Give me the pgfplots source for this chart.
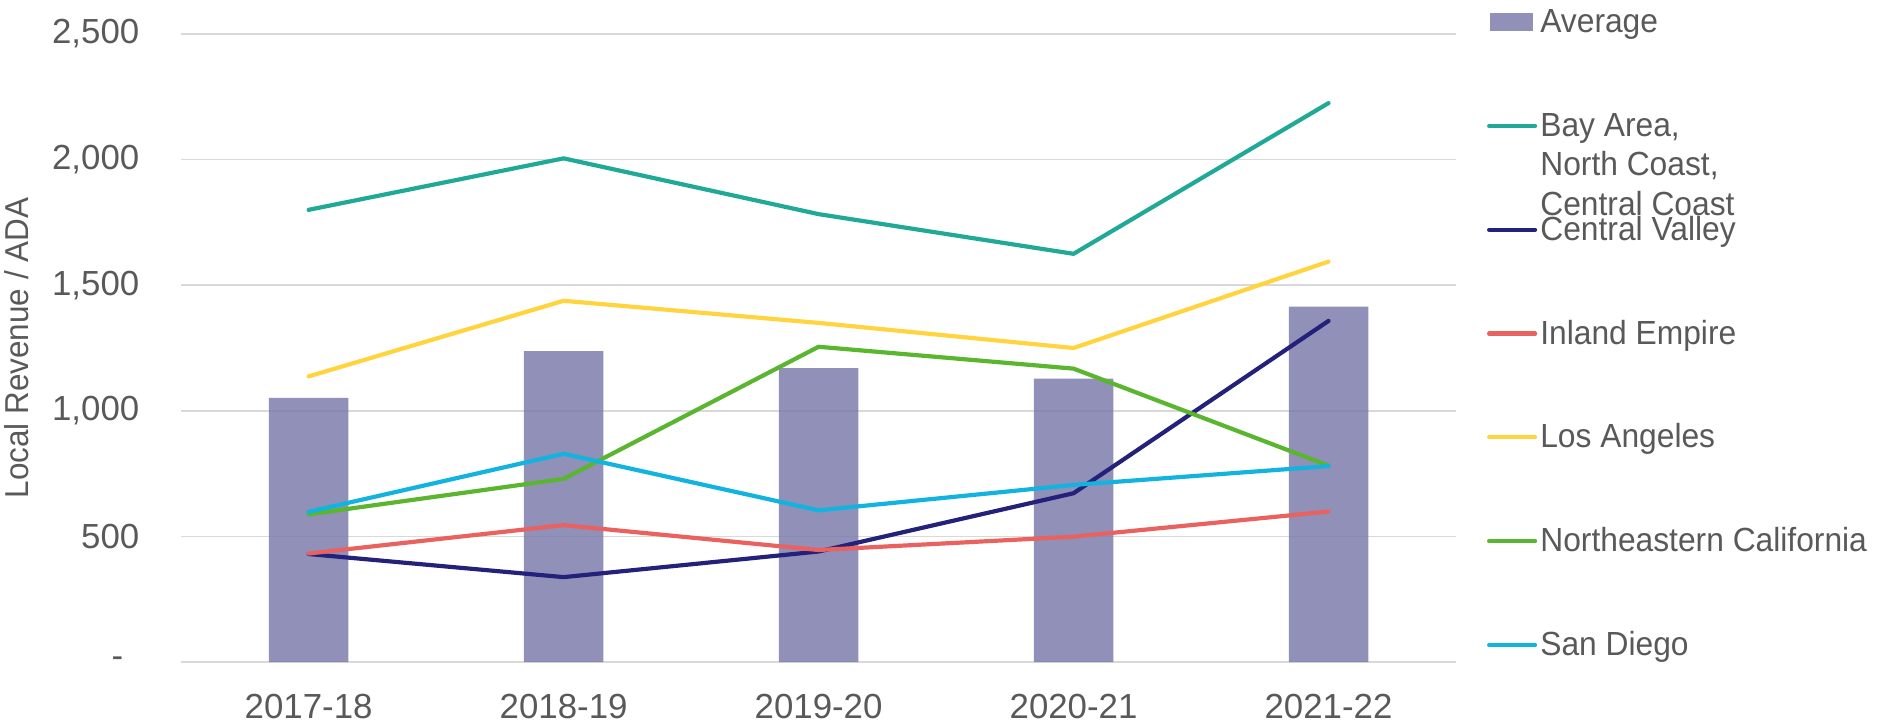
\documentclass[border=0pt]{standalone}
\usepackage{fontspec}
\setmainfont{Liberation Sans}
\newfontfamily\condfont[FakeStretch=0.95]{Liberation Sans}
\usepackage{pgfplots}
\pgfplotsset{compat=1.18}
\definecolor{txt}{HTML}{595959}
\definecolor{gridc}{HTML}{D9D9D9}
\definecolor{barc}{HTML}{7C7CAC}
\definecolor{bay}{HTML}{20A997}
\definecolor{cv}{HTML}{23217A}
\definecolor{ie}{HTML}{E9625F}
\definecolor{la}{HTML}{FFD43E}
\definecolor{ne}{HTML}{5AB52F}
\definecolor{sd}{HTML}{13B3E0}
\pgfplotsset{
  ln/.style={#1, line width=1.2bp, mark=none, line join=round, line cap=round,
    legend image code/.code={\draw[#1, line width=1.2bp, line cap=round] (0bp,0.5bp) -- (13.2bp,0.5bp);}},
}
\begin{document}
\begin{tikzpicture}
\begin{axis}[
  at={(0,0)}, anchor=south west,
  scale only axis, width=366bp, height=180.3bp,
  xmin=-0.5, xmax=4.5, ymin=0, ymax=2500,
  xtick={0,1,2,3,4},
  xticklabels={2017-18,2018-19,2019-20,2020-21,2021-22},
  ytick={0,500,1000,1500,2000,2500},
  yticklabels={{-\hspace*{4.6bp}},500,{1,000},{1,500},{2,000},{2,500}},
  axis line style={draw=none}, major tick length=0pt,
  ymajorgrids, grid style={color=gridc, line width=0.5bp},
  ticklabel style={font=\fontsize{10bp}{12bp}\selectfont, text=txt},
  xticklabel style={yshift=-5.6bp},
  yticklabel style={xshift=-8.5bp},
  ylabel={Local Revenue / ADA},
  every axis y label/.style={at={(axis description cs:-0.1287,0.5)}, rotate=90, anchor=center,
     font=\condfont\fontsize{9.5bp}{11bp}\selectfont, text=txt},
  legend style={at={(rel axis cs:1,1)}, anchor=north west, xshift=8.9bp, yshift=7.4bp,
     draw=none, fill=none, inner sep=0pt, outer sep=0pt, row sep=20.8bp, column sep=0.9bp,
     font=\condfont\fontsize{9.6bp}{11.3bp}\selectfont, text=txt,
     cells={anchor=base west}, nodes={inner sep=0pt, text height=7bp, text depth=2bp}},
  legend cell align=left,
]
\addplot[ybar, bar width=0.312, bar shift=0pt, fill=barc, fill opacity=0.85, draw=none,
  legend image code/.code={\fill[barc, fill opacity=0.85] (0.3bp,-2.1bp) rectangle (12.6bp,3.1bp);}]
  coordinates {(0,1052) (1,1238) (2,1170) (3,1128) (4,1415)};
\addlegendentry{Average}
\addplot[ln=bay] coordinates {(0,1800) (1,2005) (2,1783) (3,1625) (4,2225)};
\addlegendentry{\smash{\parbox[t]{40mm}{\baselineskip=11.3bp Bay Area,\\North Coast,\\Central Coast}}}
\addplot[ln=cv] coordinates {(0,430) (1,338) (2,440) (3,672) (4,1358)};
\addlegendentry{Central Valley}
\addplot[ln=ie] coordinates {(0,432) (1,545) (2,446) (3,499) (4,599)};
\addlegendentry{Inland Empire}
\addplot[ln=la] coordinates {(0,1137) (1,1438) (2,1350) (3,1250) (4,1594)};
\addlegendentry{Los Angeles}
\addplot[ln=ne] coordinates {(0,588) (1,729) (2,1255) (3,1168) (4,782)};
\addlegendentry{Northeastern California}
\addplot[ln=sd] coordinates {(0,598) (1,829) (2,604) (3,705) (4,780)};
\addlegendentry{San Diego}
\end{axis}
\pgfresetboundingbox
\path[use as bounding box] (-52bp,-17.2bp) rectangle (488bp,190.06bp);
\end{tikzpicture}
\end{document}
